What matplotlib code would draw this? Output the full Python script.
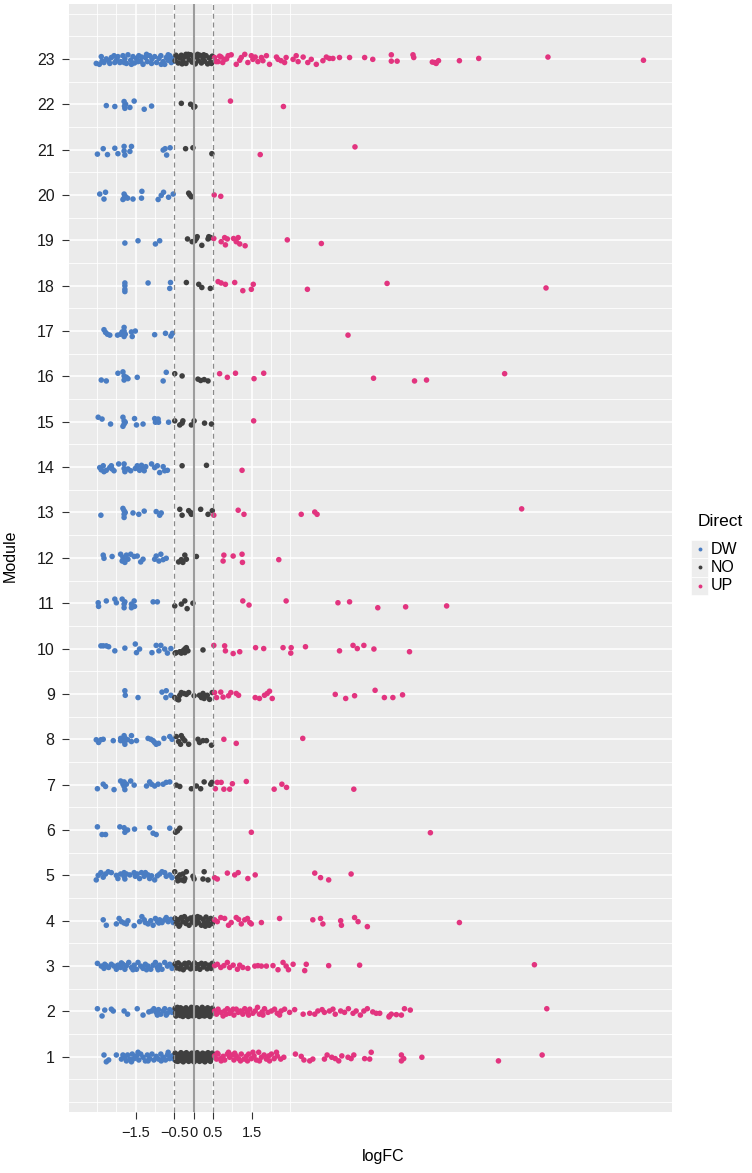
import numpy as np
import matplotlib.pyplot as plt
from matplotlib.lines import Line2D
from matplotlib.patches import Rectangle

plt.rcParams['font.family'] = ['Liberation Sans', 'DejaVu Sans']

# --------- data: (logFC, vertical jitter) for every gene, per module ---------
mod_01 = [
    (-2.32, 0.04), (-2.26, -0.11), (-2.20, -0.07), (-2.00, 0.04), (-1.87, -0.05), (-1.83, 0.04),
    (-1.78, -0.01), (-1.74, -0.09), (-1.71, 0.04), (-1.65, -0.05), (-1.61, -0.11), (-1.59, 0.06),
    (-1.54, -0.04), (-1.48, 0.02), (-1.44, 0.10), (-1.42, -0.07), (-1.37, 0.06), (-1.31, -0.01),
    (-1.25, -0.09), (-1.20, 0.04), (-1.18, -0.09), (-1.14, -0.04), (-1.08, 0.06), (-1.03, -0.07),
    (-0.97, 0.01), (-0.91, -0.05), (-0.85, 0.06), (-0.84, -0.09), (-0.79, -0.01), (-0.73, -0.07),
    (-0.68, 0.04), (-0.66, 0.10), (-0.62, -0.04), (-0.56, 0.02), (-0.51, -0.05),
    (-0.48, 0.08), (-0.47, -0.02), (-0.46, -0.09), (-0.40, 0.05), (-0.39, -0.05), (-0.41, -0.10),
    (-0.33, 0.09), (-0.32, 0.00), (-0.34, -0.08), (-0.26, 0.06), (-0.25, -0.04), (-0.27, -0.11),
    (-0.19, 0.09), (-0.18, 0.01), (-0.20, -0.07), (-0.12, 0.05), (-0.11, -0.04), (-0.13, -0.10),
    (-0.05, 0.08), (-0.04, 0.00), (-0.06, -0.08), (0.02, 0.06), (0.03, -0.03), (0.01, -0.11),
    (0.09, 0.09), (0.10, 0.01), (0.08, -0.07), (0.16, 0.05), (0.17, -0.04), (0.15, -0.10),
    (0.23, 0.08), (0.24, 0.00), (0.22, -0.08), (0.30, 0.06), (0.31, -0.03), (0.29, -0.11),
    (0.37, 0.09), (0.38, 0.01), (0.36, -0.07), (0.44, 0.05), (0.45, -0.04), (0.43, -0.10),
    (0.48, 0.08), (0.48, -0.01),
    (0.54, 0.02), (0.59, -0.05), (0.61, 0.08), (0.63, 0.06), (0.70, -0.04), (0.71, -0.09),
    (0.76, 0.01), (0.80, -0.07), (0.87, 0.06), (0.90, 0.10), (0.93, -0.01), (0.99, 0.04),
    (1.04, -0.07), (1.06, 0.08), (1.10, 0.02), (1.16, -0.04), (1.21, -0.09), (1.23, 0.06),
    (1.30, -0.05), (1.36, 0.01), (1.39, -0.09), (1.42, 0.06), (1.49, -0.04), (1.53, 0.10),
    (1.56, 0.02), (1.62, -0.07), (1.68, 0.10), (1.70, -0.09), (1.75, -0.01), (1.82, 0.04),
    (1.88, -0.05), (1.94, 0.02), (1.96, -0.09), (2.01, 0.06), (2.08, -0.04), (2.14, 0.10),
    (2.16, 0.02), (2.25, -0.05), (2.33, -0.01), (2.63, 0.06), (2.78, 0.01), (2.85, -0.07),
    (3.00, -0.09), (3.08, -0.05), (3.38, -0.05), (3.45, 0.04), (3.57, -0.01), (3.66, -0.04),
    (3.75, -0.09), (3.83, 0.02), (3.99, -0.01), (4.07, -0.04), (4.14, 0.04), (4.42, -0.04),
    (4.55, -0.05), (4.59, 0.10), (5.37, 0.04), (5.43, -0.04), (5.37, -0.09), (5.90, -0.01),
    (7.88, -0.09), (9.01, 0.04),
]
mod_02 = [
    (-2.49, 0.06), (-2.37, -0.10), (-2.30, 0.03), (-2.13, 0.05), (-2.08, 0.01), (-1.80, 0.01),
    (-1.71, -0.06), (-1.46, 0.06), (-1.31, -0.08), (-1.16, -0.01), (-1.09, 0.01), (-1.03, 0.06),
    (-0.97, -0.02), (-0.94, -0.08), (-0.91, 0.04), (-0.85, -0.06), (-0.79, 0.01), (-0.75, 0.06),
    (-0.71, -0.08), (-0.68, -0.04), (-0.62, 0.04), (-0.56, -0.02), (-0.52, 0.01),
    (-0.48, 0.07), (-0.47, -0.03), (-0.46, -0.10), (-0.41, 0.04), (-0.40, -0.06), (-0.42, 0.09),
    (-0.34, 0.08), (-0.33, -0.01), (-0.35, -0.09), (-0.27, 0.05), (-0.26, -0.05), (-0.28, -0.11),
    (-0.20, 0.08), (-0.19, 0.00), (-0.21, -0.08), (-0.13, 0.04), (-0.12, -0.05), (-0.14, -0.11),
    (-0.06, 0.09), (-0.05, -0.01), (-0.07, -0.09), (0.01, 0.05), (0.02, -0.04), (0.00, -0.10),
    (0.08, 0.08), (0.09, 0.00), (0.07, -0.08), (0.15, 0.04), (0.16, -0.05), (0.14, -0.11),
    (0.22, 0.09), (0.23, -0.01), (0.21, -0.09), (0.29, 0.05), (0.30, -0.04), (0.28, -0.10),
    (0.36, 0.08), (0.37, 0.00), (0.35, -0.08), (0.43, 0.04), (0.44, -0.05), (0.42, -0.11),
    (0.48, 0.07), (0.48, -0.02),
    (0.54, 0.01), (0.59, -0.06), (0.61, -0.01), (0.63, 0.05), (0.70, -0.02), (0.76, -0.10),
    (0.80, 0.01), (0.84, -0.06), (0.87, 0.06), (0.93, -0.04), (0.97, 0.01), (1.02, 0.05),
    (1.04, -0.08), (1.10, 0.05), (1.15, -0.02), (1.21, 0.01), (1.25, -0.01), (1.27, -0.06),
    (1.32, 0.06), (1.39, -0.02), (1.42, -0.08), (1.45, 0.05), (1.53, -0.04), (1.59, 0.01),
    (1.65, 0.09), (1.70, -0.06), (1.77, -0.01), (1.79, -0.08), (1.83, 0.06), (1.92, -0.02),
    (2.01, 0.01), (2.09, 0.05), (2.16, -0.04), (2.22, -0.08), (2.26, 0.01), (2.35, 0.05),
    (2.48, -0.02), (2.61, 0.04), (2.83, -0.06), (3.00, -0.04), (3.13, -0.06), (3.21, 0.01),
    (3.32, 0.04), (3.38, -0.02), (3.51, 0.01), (3.60, 0.05), (3.66, -0.06), (3.80, 0.01),
    (3.90, -0.02), (4.00, 0.06), (4.12, -0.04), (4.20, 0.01), (4.31, -0.08), (4.40, 0.01),
    (4.49, 0.06), (4.63, -0.01), (4.72, -0.04), (4.81, -0.04), (5.05, -0.12), (5.06, -0.10),
    (5.11, -0.06), (5.24, -0.07), (5.37, -0.08), (5.45, 0.06), (5.60, 0.03), (9.13, 0.06),
]
mod_03 = [
    (-2.49, 0.06), (-2.39, 0.00), (-2.32, -0.05), (-2.30, 0.04), (-2.26, 0.01), (-2.20, -0.03),
    (-2.13, 0.04), (-2.06, 0.00), (-2.00, -0.07), (-1.96, 0.02), (-1.89, -0.03), (-1.87, 0.07),
    (-1.83, 0.04), (-1.78, -0.07), (-1.74, 0.01), (-1.68, 0.08), (-1.61, -0.03), (-1.57, -0.08),
    (-1.54, 0.02), (-1.48, -0.07), (-1.44, 0.08), (-1.37, 0.00), (-1.31, -0.05), (-1.25, 0.04),
    (-1.22, -0.08), (-1.18, 0.00), (-1.11, -0.07), (-1.05, 0.02), (-0.99, 0.08), (-0.94, -0.03),
    (-0.92, -0.08), (-0.88, 0.02), (-0.82, -0.07), (-0.75, 0.08), (-0.68, 0.00), (-0.62, 0.04),
    (-0.56, -0.05), (-0.52, 0.01),
    (-0.48, 0.05), (-0.44, -0.04), (-0.40, 0.07), (-0.36, -0.06), (-0.32, 0.02), (-0.27, -0.08),
    (-0.23, 0.06), (-0.18, -0.02), (-0.13, 0.07), (-0.08, -0.06), (-0.04, 0.02), (0.02, 0.07),
    (0.06, -0.05), (0.11, 0.03), (0.16, -0.07), (0.20, 0.06), (0.25, -0.02), (0.30, 0.05),
    (0.35, -0.06), (0.40, 0.02), (0.45, -0.05), (0.48, 0.06),
    (0.54, 0.01), (0.61, 0.04), (0.70, -0.03), (0.78, 0.01), (0.87, 0.08), (0.93, -0.03),
    (1.02, 0.02), (1.13, -0.07), (1.19, 0.02), (1.27, -0.03), (1.40, -0.05), (1.58, 0.00),
    (1.66, 0.01), (1.75, 0.00), (1.88, 0.00), (2.05, 0.01), (2.18, -0.08), (2.31, 0.08),
    (2.39, 0.00), (2.45, -0.08), (2.57, 0.04), (2.87, -0.10), (2.91, 0.04), (3.49, 0.01),
    (4.29, 0.02), (8.81, 0.03),
]
mod_04 = [
    (-2.34, 0.02), (-2.26, -0.10), (-2.00, -0.07), (-1.93, 0.05), (-1.87, -0.02), (-1.80, -0.05),
    (-1.74, -0.07), (-1.70, 0.00), (-1.54, -0.11), (-1.40, -0.02), (-1.34, 0.09), (-1.28, 0.02),
    (-1.25, -0.04), (-1.18, -0.07), (-1.11, 0.00), (-1.05, -0.10), (-0.99, 0.05), (-0.94, -0.02),
    (-0.90, -0.05), (-0.88, 0.02), (-0.82, -0.04), (-0.75, 0.02), (-0.71, 0.07), (-0.66, -0.02),
    (-0.59, 0.03), (-0.53, -0.04),
    (-0.48, 0.05), (-0.45, -0.06), (-0.40, 0.02), (-0.38, -0.12), (-0.36, -0.09), (-0.32, 0.07),
    (-0.28, -0.02), (-0.24, 0.09), (-0.20, -0.06), (-0.16, 0.03), (-0.12, -0.10), (-0.08, 0.06),
    (-0.04, -0.03), (0.00, 0.08), (0.04, -0.08), (0.08, 0.02), (0.10, 0.09), (0.12, -0.04),
    (0.16, 0.07), (0.20, -0.10), (0.24, 0.03), (0.28, -0.05), (0.30, -0.12), (0.32, 0.08),
    (0.36, -0.02), (0.40, -0.10), (0.44, 0.05), (0.48, -0.06),
    (0.54, 0.02), (0.61, -0.02), (0.70, 0.07), (0.80, 0.05), (0.90, -0.10), (0.97, -0.04),
    (1.10, 0.07), (1.16, 0.03), (1.23, -0.07), (1.32, 0.02), (1.39, 0.05), (1.45, -0.04),
    (1.49, -0.07), (1.75, -0.04), (2.22, 0.05), (3.08, 0.02), (3.28, 0.05), (3.34, -0.07),
    (3.80, 0.00), (3.82, -0.10), (4.16, 0.07), (4.25, -0.02), (4.49, -0.13), (6.87, -0.04),
]
mod_05 = [
    (-2.52, -0.10), (-2.47, 0.00), (-2.40, 0.06), (-2.34, -0.04), (-2.28, 0.03), (-2.21, 0.08),
    (-2.13, 0.06), (-2.00, 0.00), (-1.96, -0.07), (-1.89, 0.03), (-1.80, 0.06), (-1.80, -0.02),
    (-1.78, -0.08), (-1.74, 0.03), (-1.65, 0.01), (-1.54, 0.06), (-1.51, -0.02), (-1.46, 0.03),
    (-1.40, -0.07), (-1.35, 0.06), (-1.28, -0.02), (-1.25, 0.06), (-1.18, 0.01), (-1.14, -0.07),
    (-1.09, -0.01), (-1.01, -0.10), (-0.94, -0.01), (-0.88, 0.03), (-0.82, 0.08), (-0.75, 0.06),
    (-0.71, -0.02), (-0.62, 0.01), (-0.56, -0.05),
    (-0.49, 0.08), (-0.42, -0.05), (-0.41, -0.12), (-0.36, 0.01), (-0.32, -0.10), (-0.28, 0.03),
    (-0.25, -0.12), (-0.23, -0.07), (-0.19, 0.08), (-0.02, -0.02), (0.01, -0.08), (0.24, -0.08),
    (0.27, 0.08), (0.37, -0.10),
    (0.54, -0.05), (0.61, -0.08), (0.87, 0.05), (1.06, 0.01), (1.15, 0.06), (1.40, -0.07),
    (1.59, 0.01), (3.13, 0.05), (3.28, -0.05), (3.49, -0.10), (4.07, 0.03),
]
mod_06 = [
    (-2.49, 0.07), (-2.37, -0.10), (-2.28, -0.10), (-1.91, 0.07), (-1.80, 0.05), (-1.78, -0.05),
    (-1.71, 0.00), (-1.53, 0.02), (-1.14, 0.05), (-1.05, -0.07), (-0.97, -0.10), (-0.62, 0.04),
    (-0.47, -0.05), (-0.42, -0.02), (-0.36, 0.04),
    (1.49, -0.05), (6.12, -0.06),
]
mod_07 = [
    (-2.49, -0.09), (-2.34, 0.01), (-2.28, -0.04), (-2.06, -0.11), (-1.89, 0.08), (-1.83, 0.01),
    (-1.80, 0.06), (-1.80, -0.04), (-1.78, -0.11), (-1.74, 0.01), (-1.63, 0.08), (-1.54, -0.01),
    (-1.22, -0.03), (-1.14, 0.06), (-1.09, 0.01), (-1.01, -0.03), (-0.92, 0.01), (-0.79, 0.01),
    (-0.71, 0.05), (-0.62, 0.06),
    (-0.45, -0.01), (-0.36, -0.04), (-0.06, -0.09), (0.07, -0.03), (0.18, -0.09), (0.27, 0.06),
    (0.44, 0.01), (0.47, 0.05),
    (0.56, -0.09), (0.61, 0.05), (0.71, 0.05), (0.78, -0.10), (0.93, -0.10), (1.00, 0.02),
    (1.36, 0.07), (2.08, -0.10), (2.28, 0.01), (2.40, -0.06), (4.14, -0.10),
]
mod_08 = [
    (-2.52, -0.01), (-2.46, -0.07), (-2.40, -0.01), (-2.34, 0.00), (-2.08, -0.03), (-1.89, -0.03),
    (-1.89, 0.02), (-1.85, 0.00), (-1.80, 0.08), (-1.80, -0.05), (-1.78, -0.11), (-1.77, 0.02),
    (-1.71, -0.01), (-1.61, 0.08), (-1.61, -0.05), (-1.48, -0.03), (-1.18, 0.02), (-1.11, 0.00),
    (-1.05, -0.03), (-1.01, -0.07), (-0.97, -0.11), (-0.91, -0.09), (-0.77, 0.02), (-0.62, 0.06),
    (-0.56, 0.00),
    (-0.45, 0.06), (-0.39, -0.05), (-0.34, -0.11), (-0.32, 0.08), (-0.28, 0.02), (-0.23, -0.03),
    (-0.13, -0.11), (0.11, 0.00), (0.15, -0.07), (0.24, -0.03), (0.33, -0.03), (0.46, -0.13),
    (0.78, 0.00), (1.10, -0.09), (2.82, 0.02),
]
mod_09 = [
    (-1.78, 0.07), (-1.77, -0.03), (-1.44, -0.08), (-0.82, 0.04), (-0.72, -0.08), (-0.71, 0.07),
    (-0.59, -0.03),
    (-0.49, -0.08), (-0.42, -0.12), (-0.39, -0.13), (-0.36, -0.03), (-0.32, 0.03), (-0.25, 0.01),
    (-0.19, -0.01), (-0.13, 0.03), (0.01, -0.04), (0.15, -0.03), (0.20, -0.08), (0.24, 0.01),
    (0.27, -0.10), (0.28, -0.04), (0.35, -0.03), (0.41, -0.12), (0.48, 0.03),
    (0.54, 0.03), (0.59, -0.08), (0.70, 0.04), (0.76, -0.07), (0.90, -0.04), (0.96, 0.03),
    (1.10, 0.01), (1.16, -0.03), (1.59, -0.08), (1.70, -0.10), (1.83, -0.03), (1.90, 0.01),
    (1.96, 0.06), (2.03, -0.10), (3.66, -0.01), (3.93, -0.10), (4.16, -0.04), (4.69, 0.08),
    (4.93, -0.08), (5.15, -0.08), (5.40, -0.02),
]
mod_10 = [
    (-2.40, 0.06), (-2.34, 0.06), (-2.26, 0.06), (-2.20, 0.04), (-2.04, -0.05), (-1.78, 0.01),
    (-1.51, 0.10), (-1.48, -0.09), (-1.40, -0.01), (-1.08, -0.09), (-0.97, 0.07), (-0.90, -0.05),
    (-0.85, 0.07), (-0.75, -0.01), (-0.68, -0.10), (-0.59, 0.00),
    (-0.48, -0.10), (-0.45, -0.09), (-0.36, -0.07), (-0.32, -0.10), (-0.28, -0.05), (-0.23, -0.01),
    (-0.23, -0.09), (-0.19, 0.02), (-0.15, -0.05), (0.24, -0.03),
    (0.52, 0.07), (0.80, 0.06), (0.82, -0.05), (1.02, -0.11), (1.19, -0.07), (1.60, 0.02),
    (1.81, 0.00), (2.31, 0.02), (2.52, 0.02), (2.51, -0.10), (2.89, 0.04), (3.77, -0.05),
    (4.12, 0.07), (4.23, 0.00), (4.40, 0.07), (4.66, -0.01), (5.58, -0.07),
]
mod_11 = [
    (-2.47, 0.01), (-2.46, -0.07), (-2.26, 0.05), (-2.04, 0.09), (-2.00, 0.01), (-1.85, 0.09),
    (-1.80, -0.02), (-1.80, -0.10), (-1.78, 0.03), (-1.61, -0.02), (-1.61, -0.10), (-1.54, 0.05),
    (-1.53, -0.07), (-1.05, 0.03), (-0.94, 0.03),
    (-0.49, -0.06), (-0.32, -0.02), (-0.23, 0.05), (-0.17, -0.12), (-0.02, 0.00),
    (1.27, 0.05), (1.43, -0.04), (2.39, 0.05), (3.73, 0.01), (4.03, 0.03), (4.76, -0.10),
    (5.48, -0.08), (6.54, -0.06),
]
mod_12 = [
    (-2.34, 0.06), (-2.32, -0.01), (-2.11, 0.03), (-1.89, 0.08), (-1.85, -0.07), (-1.83, 0.01),
    (-1.80, -0.04), (-1.78, -0.10), (-1.74, 0.06), (-1.70, -0.03), (-1.63, 0.08), (-1.54, 0.03),
    (-1.46, 0.04), (-1.37, -0.09), (-1.31, -0.03), (-1.01, -0.03), (-0.97, 0.04), (-0.90, -0.07),
    (-0.85, 0.08), (-0.79, -0.04), (-0.71, -0.01),
    (-0.39, -0.09), (-0.32, -0.04), (-0.28, -0.10), (-0.23, 0.06), (-0.19, -0.03), (0.07, 0.03),
    (0.76, -0.07), (0.78, 0.06), (1.02, 0.04), (1.25, 0.08), (1.26, -0.10), (2.20, -0.04),
]
mod_13 = [
    (-2.40, -0.06), (-1.83, 0.09), (-1.80, 0.04), (-1.80, -0.04), (-1.80, -0.11), (-1.77, 0.00),
    (-1.57, -0.01), (-1.42, -0.04), (-1.28, 0.03), (-0.97, 0.02), (-0.88, -0.06), (-0.84, -0.01),
    (-0.36, 0.07), (-0.30, -0.06), (-0.13, 0.04), (-0.08, 0.00), (-0.06, -0.04), (0.18, 0.07),
    (0.37, -0.04), (0.48, 0.04),
    (0.52, -0.06), (1.15, 0.05), (1.30, -0.04), (2.78, -0.04), (3.13, 0.01), (3.19, -0.04),
    (8.48, 0.08),
]
mod_14 = [
    (-2.43, -0.01), (-2.39, -0.06), (-2.34, 0.03), (-2.32, -0.10), (-2.26, -0.07), (-2.17, -0.01),
    (-2.13, 0.03), (-2.11, -0.04), (-2.06, -0.08), (-1.94, 0.07), (-1.80, 0.07), (-1.80, -0.03),
    (-1.78, -0.10), (-1.70, -0.04), (-1.63, -0.08), (-1.51, -0.03), (-1.46, 0.03), (-1.40, -0.07),
    (-1.35, 0.04), (-1.34, -0.01), (-1.28, -0.08), (-1.24, 0.01), (-1.09, 0.07), (-1.01, -0.01),
    (-0.94, 0.03), (-0.88, -0.12), (-0.79, 0.01), (-0.75, -0.08), (-0.68, -0.07),
    (-0.30, 0.03), (0.33, 0.04),
    (1.25, -0.07),
]
mod_15 = [
    (-2.47, 0.10), (-2.37, 0.06), (-2.15, -0.05), (-1.83, 0.10), (-1.80, 0.02), (-1.80, -0.05),
    (-1.83, -0.10), (-1.77, -0.01), (-1.53, 0.07), (-1.48, -0.07), (-1.31, -0.05), (-1.01, 0.07),
    (-0.99, -0.01), (-0.92, 0.06), (-0.91, -0.01), (-0.65, -0.01),
    (-0.49, 0.02), (-0.36, -0.07), (-0.30, -0.03), (-0.28, 0.02), (-0.06, -0.07), (0.01, 0.02),
    (0.28, -0.03), (0.46, -0.05),
    (1.55, 0.02),
]
mod_16 = [
    (-2.39, -0.08), (-2.26, -0.10), (-1.96, 0.07), (-1.83, 0.10), (-1.80, 0.01), (-1.80, -0.08),
    (-1.74, -0.02), (-1.70, -0.05), (-1.46, -0.02), (-0.79, -0.10), (-0.71, 0.09),
    (-0.49, 0.06), (-0.30, 0.01), (0.11, -0.06), (0.18, -0.09), (0.27, -0.07), (0.37, -0.10),
    (0.67, 0.06), (0.87, -0.02), (1.08, 0.07), (1.56, -0.05), (1.81, 0.07), (4.65, -0.04),
    (5.71, -0.10), (6.02, -0.08), (8.04, 0.06),
]
mod_17 = [
    (-2.32, 0.03), (-2.28, -0.03), (-2.23, -0.07), (-2.17, -0.09), (-1.97, -0.09), (-1.89, -0.07),
    (-1.85, -0.02), (-1.80, 0.08), (-1.80, 0.00), (-1.80, -0.12), (-1.77, -0.07), (-1.61, -0.02),
    (-1.59, -0.12), (-1.51, 0.00), (-1.01, -0.08), (-0.73, -0.05), (-0.59, -0.11), (-0.55, -0.05),
    (3.99, -0.09),
]
mod_18 = [
    (-1.78, 0.06), (-1.78, 0.00), (-1.78, -0.08), (-1.78, -0.13), (-1.18, 0.06), (-0.60, 0.07),
    (-0.62, -0.06),
    (-0.19, 0.07), (0.13, 0.03), (0.21, -0.04), (0.43, -0.06),
    (0.63, 0.09), (0.71, 0.06), (0.82, 0.03), (1.06, 0.07), (1.27, -0.11), (1.49, -0.08),
    (1.54, 0.03), (2.94, -0.08), (5.00, 0.05), (9.11, -0.05),
]
mod_19 = [
    (-1.78, -0.06), (-1.44, -0.01), (-0.99, -0.08), (-0.88, -0.01),
    (-0.16, 0.03), (-0.04, -0.03), (0.03, -0.01), (0.07, 0.04), (0.09, 0.08), (0.21, -0.11),
    (0.37, 0.03), (0.39, 0.08), (0.44, 0.06),
    (0.52, 0.04), (0.71, -0.03), (0.80, 0.06), (0.82, -0.10), (0.87, 0.03), (1.03, 0.04),
    (1.10, -0.03), (1.15, 0.06), (1.19, -0.08), (1.33, -0.12), (2.42, 0.01), (3.30, -0.07),
]
mod_20 = [
    (-2.43, 0.02), (-2.32, -0.09), (-2.28, 0.06), (-1.83, -0.10), (-1.80, 0.02), (-1.80, -0.07),
    (-1.77, -0.03), (-1.71, -0.07), (-1.57, -0.09), (-1.35, -0.07), (-1.34, 0.08), (-0.92, -0.10),
    (-0.84, -0.01), (-0.78, 0.06), (-0.65, -0.05), (-0.53, 0.02),
    (-0.13, 0.04), (-0.10, 0.00), (-0.06, -0.04),
    (0.53, 0.00), (0.70, -0.03),
]
mod_21 = [
    (-2.49, -0.10), (-2.34, 0.02), (-2.23, -0.11), (-2.04, 0.03), (-1.96, -0.09), (-1.80, 0.07),
    (-1.80, -0.03), (-1.78, -0.12), (-1.65, -0.04), (-1.61, 0.07), (-0.79, -0.01), (-0.74, 0.02),
    (-0.70, -0.12), (-0.61, 0.04),
    (-0.21, 0.02), (-0.02, 0.04), (0.47, -0.09),
    (1.72, -0.11), (4.17, 0.06),
]
mod_22 = [
    (-2.26, -0.03), (-2.04, -0.05), (-1.80, 0.06), (-1.79, -0.04), (-1.78, -0.09), (-1.76, 0.00),
    (-1.65, -0.07), (-1.54, 0.07), (-1.28, -0.11), (-1.09, -0.04),
    (-0.32, 0.02), (-0.08, 0.00), (0.00, -0.07), (0.03, -0.05),
    (0.95, 0.07), (2.32, -0.05),
]
mod_23 = [
    (-2.52, -0.10), (-2.44, -0.12), (-2.39, 0.05), (-2.37, -0.05), (-2.32, -0.08), (-2.26, 0.00),
    (-2.20, -0.04), (-2.17, -0.10), (-2.13, 0.03), (-2.06, 0.07), (-2.04, -0.08), (-2.00, -0.03),
    (-1.96, 0.05), (-1.91, -0.08), (-1.89, -0.06), (-1.83, 0.07), (-1.80, -0.08), (-1.78, 0.00),
    (-1.74, -0.10), (-1.70, 0.09), (-1.63, -0.03), (-1.61, -0.12), (-1.57, 0.05), (-1.53, -0.09),
    (-1.48, 0.01), (-1.44, -0.06), (-1.42, 0.07), (-1.37, -0.05), (-1.35, 0.04), (-1.31, -0.12),
    (-1.25, 0.03), (-1.22, 0.10), (-1.20, -0.06), (-1.14, 0.07), (-1.09, -0.10), (-1.08, 0.00),
    (-1.01, 0.05), (-0.96, -0.08), (-0.90, 0.01), (-0.85, 0.07), (-0.84, -0.12), (-0.79, -0.06),
    (-0.75, -0.12), (-0.71, 0.03), (-0.66, -0.03), (-0.66, 0.09), (-0.62, 0.07), (-0.58, -0.08),
    (-0.55, 0.01), (-0.52, -0.05),
    (-0.48, -0.04), (-0.46, 0.08), (-0.44, 0.05), (-0.40, -0.09), (-0.36, 0.02), (-0.32, 0.08),
    (-0.30, -0.11), (-0.28, -0.05), (-0.24, 0.04), (-0.20, -0.10), (-0.20, 0.10), (-0.16, 0.06),
    (-0.14, 0.10), (-0.12, -0.02), (-0.08, 0.09), (-0.04, -0.07), (0.00, 0.03), (0.04, -0.11),
    (0.08, 0.05), (0.10, 0.10), (0.12, -0.04), (0.16, 0.08), (0.20, -0.09), (0.24, 0.01),
    (0.26, 0.09), (0.28, -0.05), (0.32, 0.07), (0.36, -0.11), (0.40, 0.02), (0.44, -0.07),
    (0.46, -0.10), (0.48, 0.06),
    (0.54, 0.03), (0.58, -0.06), (0.63, -0.06), (0.67, 0.06), (0.71, 0.04), (0.75, -0.08),
    (0.80, -0.01), (0.85, 0.00), (0.89, 0.07), (0.97, 0.09), (1.10, -0.12), (1.19, -0.03),
    (1.23, 0.03), (1.32, 0.10), (1.40, -0.08), (1.49, 0.07), (1.53, -0.01), (1.59, 0.04),
    (1.66, -0.06), (1.75, 0.03), (1.79, -0.04), (1.88, 0.07), (1.96, -0.12), (2.14, 0.04),
    (2.18, -0.01), (2.26, -0.04), (2.35, -0.08), (2.39, 0.03), (2.57, -0.01), (2.65, 0.07),
    (2.70, -0.06), (2.83, 0.04), (2.95, -0.08), (3.04, -0.01), (3.17, -0.12), (3.34, -0.04),
    (3.43, 0.04), (3.51, 0.01), (3.60, 0.01), (3.77, 0.03), (4.03, 0.03), (4.42, 0.03),
    (4.63, -0.01), (5.11, 0.09), (5.11, -0.05), (5.26, -0.05), (5.67, 0.09), (5.69, 0.03),
    (6.17, -0.07), (6.23, -0.08), (6.27, -0.10), (6.33, -0.04), (6.87, -0.04), (7.37, 0.01),
    (9.16, 0.04), (11.63, -0.03),
]

modules = [mod_01, mod_02, mod_03, mod_04, mod_05, mod_06, mod_07, mod_08, mod_09, mod_10,
           mod_11, mod_12, mod_13, mod_14, mod_15, mod_16, mod_17, mod_18, mod_19, mod_20,
           mod_21, mod_22, mod_23]

directions = ['DW', 'NO', 'UP']
dir_colors = {'DW': '#4A7DC3', 'NO': '#3F3F3F', 'UP': '#E2347F'}
cutoff = 0.5
x_breaks = [-1.5, -0.5, 0, 0.5, 1.5]
x_labels = ['\u22121.5', '\u22120.5', '0', '0.5', '1.5']
x_minor = [-2.5, -2.0, -1.0, 1.0, 2.0, 2.5]

# --------- figure ---------
W, H = 752, 1173
fig = plt.figure(figsize=(W / 100, H / 100), dpi=100)
ax = fig.add_axes([69.3 / W, 1 - 1111.7 / H, (671.7 - 69.3) / W, (1111.7 - 4) / H])
ax.set_facecolor('#EBEBEB')

for m, pts in enumerate(modules, start=1):
    arr = np.array(pts)
    x = arr[:, 0]
    y = m + arr[:, 1]
    d = np.where(x < -cutoff, 'DW', np.where(x > cutoff, 'UP', 'NO'))
    ax.scatter(x, y, s=16, c=[dir_colors[k] for k in d], linewidths=0, zorder=3)

ax.axvline(0, color='#9C9C9C', lw=1.5, zorder=4)
for v in (-cutoff, cutoff):
    ax.axvline(v, color='#8A8A8A', lw=0.9, ls=(0, (4, 3)), zorder=4)

ax.set_xlim(-3.217, 12.36)
ax.set_ylim(-0.21, 24.21)
ax.set_xticks(x_breaks)
ax.set_xticklabels(x_labels)
ax.set_xticks(x_minor, minor=True)
ax.set_yticks(range(1, 24))
ax.set_yticks(np.arange(0, 24.5, 0.5), minor=True)

ax.set_axisbelow(True)
ax.grid(which='major', color='white', lw=1.1)
ax.grid(which='minor', color='white', lw=0.6)
for s in ax.spines.values():
    s.set_visible(False)
ax.tick_params(which='major', length=5, width=0.8, color='#333333',
               labelsize=11.5, labelcolor='#1A1A1A')
ax.tick_params(axis='y', pad=5.5)
ax.tick_params(axis='x', pad=5, labelsize=10.5)
ax.tick_params(which='minor', length=0)

fig.text(383 / W, 1 - 1157 / H, 'logFC', ha='center', va='center', fontsize=11.5)
fig.text(10 / W, 1 - 556 / H, 'Module', ha='center', va='center', rotation=90, fontsize=11.5)

# --------- legend ---------
fig.text(698 / W, 1 - 521 / H, 'Direct', ha='left', va='center', fontsize=12.5)
key_top = 540.0
key_h = 18.3
for i, name in enumerate(directions):
    y0 = key_top + i * key_h
    fig.add_artist(Rectangle((690.7 / W, 1 - (y0 + key_h) / H), 17.6 / W, key_h / H,
                             transform=fig.transFigure, facecolor='#EDEDED',
                             edgecolor='white', lw=0.5))
    yc = 1 - (y0 + key_h / 2) / H
    fig.add_artist(Line2D([699.5 / W], [yc], transform=fig.transFigure, marker='o',
                          markersize=2.8, color=dir_colors[name], markeredgewidth=0))
    fig.text(710.5 / W, yc, name, ha='left', va='center', fontsize=11.5)

fig.savefig('out.png', dpi=100)
